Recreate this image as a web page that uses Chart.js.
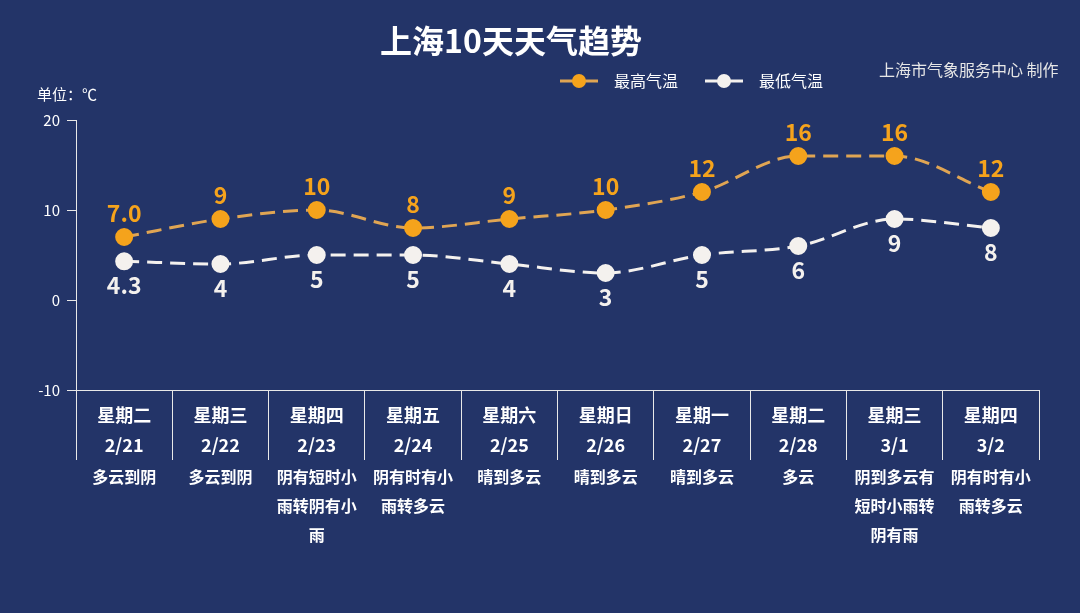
<!DOCTYPE html>
<html>
<head>
<meta charset="utf-8">
<script src="https://cdn.jsdelivr.net/npm/chart.js@4/dist/chart.umd.min.js"></script>
<style>
    body { margin: 0; background: #233468; }
    #wrap { width: 1080px; height: 613px; }
</style>
</head>
<body>
<div id="wrap"><canvas id="myChart" width="1080" height="613"></canvas></div>
<script>
const days = ['星期二', '星期三', '星期四', '星期五', '星期六', '星期日', '星期一', '星期二', '星期三', '星期四'];
const dates = ['2/21', '2/22', '2/23', '2/24', '2/25', '2/26', '2/27', '2/28', '3/1', '3/2'];
const weather = [
    ['多云到阴'],
    ['多云到阴'],
    ['阴有短时小', '雨转阴有小', '雨'],
    ['阴有时有小', '雨转多云'],
    ['晴到多云'],
    ['晴到多云'],
    ['晴到多云'],
    ['多云'],
    ['阴到多云有', '短时小雨转', '阴有雨'],
    ['阴有时有小', '雨转多云'],
];
const highTemps = [7.0, 9, 10, 8, 9, 10, 12, 16, 16, 12];
const lowTemps = [4.3, 4, 5, 5, 4, 3, 5, 6, 9, 8];
const highText = ['7.0', '9', '10', '8', '9', '10', '12', '16', '16', '12'];
const lowText = ['4.3', '4', '5', '5', '4', '3', '5', '6', '9', '8'];
const yTicks = [-10, 0, 10, 20];

const FONT = '"Noto Sans CJK SC", "Microsoft YaHei", sans-serif';
const ORANGE = '#f5a31c';
const ORANGE_LINE = '#e0a553';
const WHITE = '#f4f1ee';

const labels = days.map((d, i) => [d, dates[i]]);

// title, unit, credit, legend and value labels
const decor = {
    id: 'decor',
    afterDatasetsDraw(chart) {
        const ctx = chart.ctx;
        ctx.save();
        ctx.textBaseline = 'middle';

        ctx.fillStyle = '#ffffff';
        ctx.font = 'bold 32px ' + FONT;
        ctx.textAlign = 'center';
        ctx.fillText('上海10天天气趋势', 511, 41);

        ctx.font = '15px ' + FONT;
        ctx.textAlign = 'left';
        ctx.fillText('单位：℃', 37, 94);

        ctx.fillStyle = '#e6e6e6';
        ctx.font = '16px ' + FONT;
        ctx.fillText('上海市气象服务中心 制作', 879, 70);

        // legend
        const items = [
            { x: 560, text: '最高气温', line: ORANGE_LINE, fill: ORANGE },
            { x: 705, text: '最低气温', line: WHITE, fill: WHITE },
        ];
        items.forEach(it => {
            ctx.strokeStyle = it.line;
            ctx.lineWidth = 3;
            ctx.beginPath();
            ctx.moveTo(it.x, 81);
            ctx.lineTo(it.x + 38, 81);
            ctx.stroke();
            ctx.fillStyle = it.fill;
            ctx.beginPath();
            ctx.arc(it.x + 19, 81, 7, 0, Math.PI * 2);
            ctx.fill();
            ctx.fillStyle = '#ffffff';
            ctx.font = '16px ' + FONT;
            ctx.fillText(it.text, it.x + 54, 81);
        });

        // value labels
        ctx.textAlign = 'center';
        ctx.font = 'bold 23px ' + FONT;
        chart.getDatasetMeta(0).data.forEach((pt, i) => {
            ctx.fillStyle = ORANGE;
            ctx.fillText(highText[i], pt.x, pt.y - 24);
        });
        chart.getDatasetMeta(1).data.forEach((pt, i) => {
            ctx.fillStyle = WHITE;
            ctx.fillText(lowText[i], pt.x, pt.y + 24);
        });
        ctx.restore();
    }
};

const data = {
    labels: labels,
    datasets: [{
        label: '最高气温',
        data: highTemps,
        borderColor: ORANGE_LINE,
        backgroundColor: ORANGE,
        pointBackgroundColor: ORANGE,
        pointBorderColor: ORANGE,
        borderWidth: 3,
        borderDash: [15, 8],
        pointRadius: 7.5,
        cubicInterpolationMode: 'monotone',
    }, {
        label: '最低气温',
        data: lowTemps,
        borderColor: WHITE,
        backgroundColor: WHITE,
        pointBackgroundColor: WHITE,
        pointBorderColor: WHITE,
        borderWidth: 3,
        borderDash: [15, 8],
        pointRadius: 7.5,
        cubicInterpolationMode: 'monotone',
    }]
};

const config = {
    type: 'line',
    data: data,
    plugins: [decor],
    options: {
        responsive: false,
        animation: false,
        layout: {
            padding: { top: 120, right: 41, bottom: 0, left: 0 },
        },
        plugins: {
            legend: { display: false },
            title: { display: false },
            tooltip: { enabled: false },
        },
        scales: {
            x: {
                weight: 0,
                offset: true,
                grid: {
                    offset: true,
                    drawOnChartArea: false,
                    color: '#e8e8e8',
                    tickLength: 70,
                    tickWidth: 1,
                },
                border: { color: '#e8e8e8', width: 1 },
                ticks: {
                    color: '#ffffff',
                    padding: -59,
                    maxRotation: 0,
                    autoSkip: false,
                    font: { family: FONT, size: 18, weight: 'bold', lineHeight: 1.62 },
                },
                afterFit(scale) { scale.height = 70; },
            },
            x2: {
                type: 'category',
                position: 'bottom',
                weight: 1,
                labels: weather,
                offset: true,
                grid: { display: false, drawTicks: false },
                border: { display: false },
                ticks: {
                    color: '#ffffff',
                    padding: 3,
                    maxRotation: 0,
                    autoSkip: false,
                    font: { family: FONT, size: 16, weight: 'bold', lineHeight: 1.8 },
                },
                afterFit(scale) { scale.height = 153; },
            },
            y: {
                min: -10,
                max: 20,
                afterBuildTicks(scale) {
                    scale.ticks = yTicks.map(v => ({ value: v }));
                },
                grid: {
                    drawOnChartArea: false,
                    color: '#e8e8e8',
                    tickLength: 9,
                },
                border: { color: '#e8e8e8', width: 1 },
                ticks: {
                    color: '#ffffff',
                    padding: 7,
                    font: { family: FONT, size: 15 },
                },
                afterFit(scale) { scale.width = 76; },
            },
        }
    }
};

const myChart = new Chart(document.getElementById('myChart'), config);
</script>
</body>
</html>
